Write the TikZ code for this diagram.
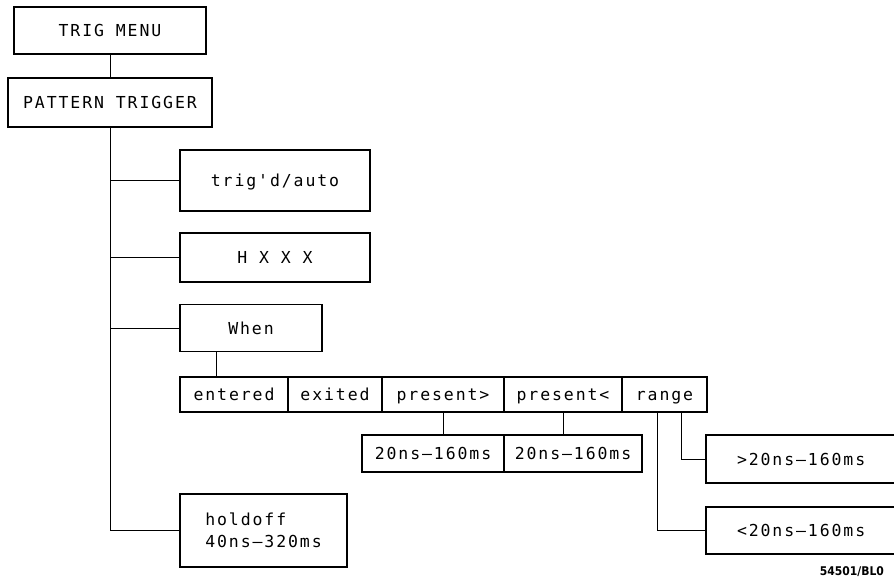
\documentclass[tikz,border=0pt]{standalone}
\usepackage{fontspec}
\setmonofont{DejaVu Sans Mono}[LetterSpace=11.5]
\newfontfamily\tagfont{DejaVu Sans}[FakeStretch=0.9]
\usepackage{tikz}

\begin{document}
\begin{tikzpicture}[x=1pt, y=-1pt]
\tikzstyle{every node}=[rectangle, draw, line width=1.6pt,
                        inner sep=0pt, font=\fontsize{16.5}{22}\ttfamily]
\tikzstyle{one}=[text height=14pt, text depth=2pt]
\tikzstyle{conn}=[line width=0.8pt]
\useasboundingbox (0,0) rectangle (894,580);
\path (110,30.5) node[one, minimum width=192, minimum height=47] (menu) {TRIG MENU};
\node[one, minimum width=204, minimum height=49] (pattern) at (110,102.5) {PATTERN TRIGGER};
\node[one, minimum width=190, minimum height=61] (trig) at (275,180.5) {trig'd/auto};
\node[one, minimum width=190, minimum height=49] (hxxx) at (275,257.5) {H X X X};
\node[one, minimum width=142, minimum height=47] (when) at (251,328) {When};
\node[minimum width=167, minimum height=73, align=left] (holdoff) at (263.5,530.5) {holdoff\\40ns–320ms};
% when choices
\node[one, minimum width=108, minimum height=35] (entered) at (234,394.5) {entered};
\node[one, minimum width=94, minimum height=35] (exited) at (335,394.5) {exited};
\node[one, minimum width=122, minimum height=35] (presgt) at (443,394.5) {present>};
\node[one, minimum width=118, minimum height=35] (preslt) at (563,394.5) {present<};
\node[one, minimum width=85, minimum height=35] (range) at (664.5,394.5) {range};
% durations
\node[one, minimum width=142, minimum height=37] (durgt) at (433,453.5) {20ns–160ms};
\node[one, minimum width=138, minimum height=37] (durlt) at (573,453.5) {20ns–160ms};
\node[one, text width=192, inner xsep=31, minimum height=48, align=left] (rangegt) at (833,459) {>20ns–160ms};
\node[one, text width=192, inner xsep=31, minimum height=47, align=left] (rangelt) at (833,530.5) {<20ns–160ms};
\node[draw=none, anchor=west, font=\fontsize{12}{13}\tagfont\bfseries] (tag) at (819,572) {54501/BL0};
% connectors
\draw[conn] (menu) -- (pattern);
\draw[conn] (pattern.south) |- (holdoff.west);
\foreach \n in {trig,hxxx,when}{\draw[conn] (pattern.south |- \n.west) -- (\n.west);}
\draw[conn] ([xshift=37pt]when.south west) -- ([xshift=37pt]entered.north west);
\draw[conn] (presgt.south) -- (presgt.south |- durgt.north);
\draw[conn] (preslt.south) -- (preslt.south |- durlt.north);
\draw[conn] ([xshift=-7pt]range.south) |- (rangelt.west);
\draw[conn] ([xshift=17pt]range.south) |- (rangegt.west);
\end{tikzpicture}
\end{document}
